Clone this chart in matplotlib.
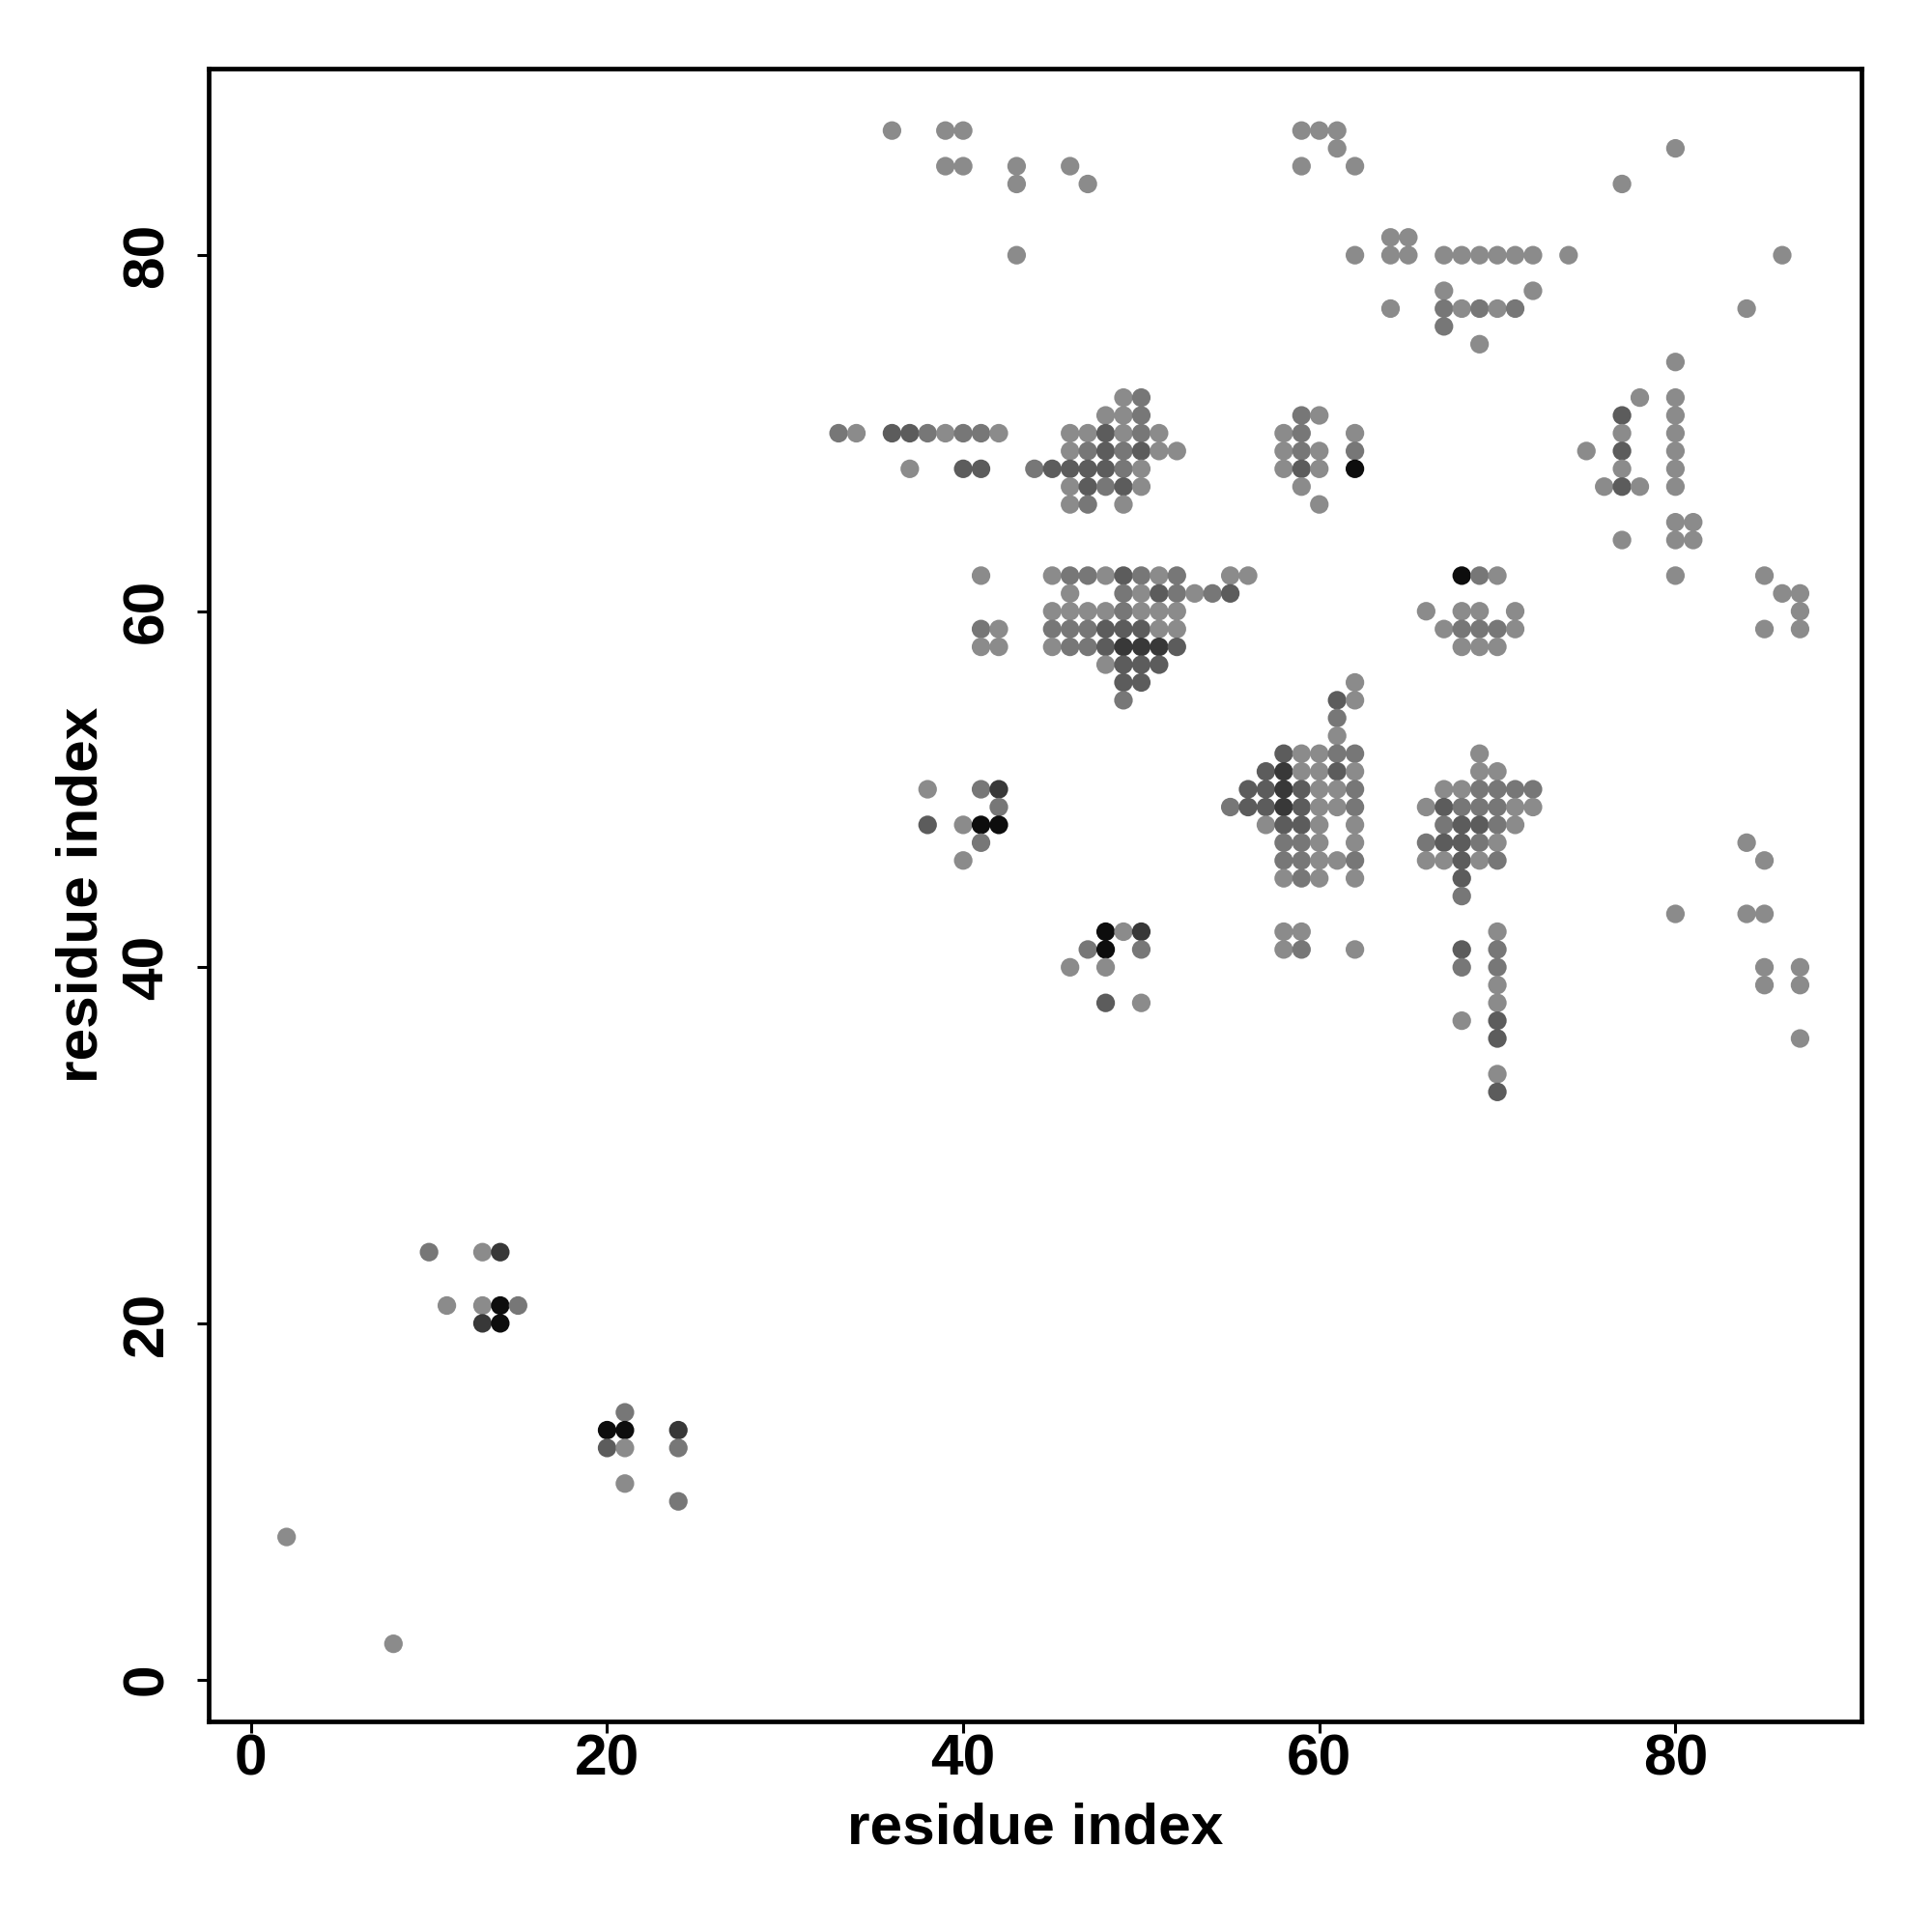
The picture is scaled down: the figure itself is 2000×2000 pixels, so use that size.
import matplotlib
matplotlib.use("Agg")
import matplotlib.pyplot as plt

# contact map: one entry per row (residue index on y), with the x residues
# in that row and a contact strength level (0 = weak ... 4 = strongest)
row_y = [87, 86, 85, 84, 81, 80, 78, 77, 76, 75, 74, 72, 71, 70, 69, 68, 67, 66,
         65, 64, 62, 61, 60, 59, 58, 57, 56, 55, 54, 53, 52, 51, 50, 49, 48, 47,
         46, 45, 44, 43, 42, 41, 40, 39, 38, 37, 36, 34, 33, 24, 21, 20, 15, 14,
         13, 11, 10, 8, 2]

row_x = [
    [36, 39, 40, 59, 60, 61],
    [61, 80],
    [39, 40, 43, 46, 59, 62],
    [43, 47, 77],
    [64, 65],
    [43, 62, 64, 65, 67, 68, 69, 70, 71, 72, 74, 86],
    [67, 72],
    [64, 67, 68, 69, 70, 71, 84],
    [67],
    [69],
    [80],
    [49, 50, 78, 80],
    [48, 49, 50, 59, 60, 77, 80],
    [33, 34, 36, 37, 38, 39, 40, 41, 42, 46, 47, 48, 49, 50, 51, 58, 59, 62, 77, 80],
    [46, 47, 48, 49, 50, 51, 52, 58, 59, 60, 62, 75, 77, 80],
    [37, 40, 41, 44, 45, 46, 47, 48, 49, 50, 58, 59, 60, 62, 77, 80],
    [46, 47, 48, 49, 50, 59, 76, 77, 78, 80],
    [46, 47, 49, 60],
    [80, 81],
    [77, 80, 81],
    [41, 45, 46, 47, 48, 49, 50, 51, 52, 55, 56, 68, 69, 70, 80, 85],
    [46, 49, 50, 51, 52, 53, 54, 55, 86, 87],
    [45, 46, 47, 48, 49, 50, 51, 52, 66, 68, 69, 71, 87],
    [41, 42, 45, 46, 47, 48, 49, 50, 51, 52, 67, 68, 69, 70, 71, 85, 87],
    [41, 42, 45, 46, 47, 48, 49, 50, 51, 52, 68, 69, 70],
    [48, 49, 50, 51],
    [49, 50, 62],
    [49, 61, 62],
    [61],
    [61],
    [58, 59, 60, 61, 62, 69],
    [57, 58, 59, 60, 61, 62, 69, 70],
    [38, 41, 42, 56, 57, 58, 59, 60, 61, 62, 67, 68, 69, 70, 71, 72],
    [42, 55, 56, 57, 58, 59, 60, 61, 62, 66, 67, 68, 69, 70, 71, 72],
    [38, 40, 41, 42, 57, 58, 59, 60, 62, 67, 68, 69, 70, 71],
    [41, 58, 59, 60, 62, 66, 67, 68, 69, 70, 84],
    [40, 58, 59, 60, 61, 62, 66, 67, 68, 69, 70, 85],
    [58, 59, 60, 62, 68],
    [68],
    [80, 84, 85],
    [48, 49, 50, 58, 59, 70],
    [47, 48, 50, 58, 59, 62, 68, 70],
    [46, 48, 68, 70, 85, 87],
    [70, 85, 87],
    [48, 50, 70],
    [68, 70],
    [70, 87],
    [70],
    [70],
    [10, 13, 14],
    [11, 13, 14, 15],
    [13, 14],
    [21],
    [20, 21, 24],
    [20, 21, 24],
    [21],
    [24],
    [2],
    [8],
]

row_level = [
    [0, 0, 0, 0, 0, 0],
    [0, 0],
    [0, 0, 0, 0, 0, 0],
    [0, 0, 0],
    [0, 0],
    [0, 0, 0, 0, 0, 0, 0, 0, 0, 0, 0, 0],
    [0, 0],
    [0, 1, 0, 1, 0, 1, 0],
    [1],
    [0],
    [0],
    [0, 1, 0, 0],
    [0, 0, 1, 1, 0, 2, 0],
    [1, 0, 2, 2, 1, 0, 1, 1, 0, 0, 0, 2, 0, 1, 0, 0, 1, 0, 0, 0],
    [0, 1, 2, 1, 2, 0, 0, 0, 1, 0, 1, 0, 2, 0],
    [0, 2, 2, 1, 2, 2, 2, 2, 1, 0, 0, 2, 0, 4, 0, 0],
    [0, 2, 1, 2, 0, 0, 0, 2, 0, 0],
    [0, 1, 0, 0],
    [0, 0],
    [0, 0, 0],
    [0, 0, 1, 1, 0, 2, 1, 0, 1, 0, 0, 4, 1, 0, 0, 0],
    [0, 1, 0, 2, 1, 0, 1, 2, 0, 0],
    [0, 0, 0, 0, 1, 0, 0, 0, 0, 0, 0, 0, 0],
    [1, 0, 1, 1, 1, 2, 2, 2, 0, 0, 0, 1, 1, 1, 0, 0, 0],
    [0, 0, 0, 1, 1, 2, 3, 3, 3, 2, 0, 0, 0],
    [0, 2, 2, 2],
    [2, 2, 0],
    [1, 2, 0],
    [1],
    [0],
    [2, 0, 0, 1, 1, 0],
    [2, 3, 0, 0, 2, 0, 0, 0],
    [0, 1, 3, 2, 2, 3, 2, 0, 0, 1, 0, 0, 1, 1, 1, 1],
    [1, 1, 2, 2, 3, 2, 0, 0, 1, 0, 2, 1, 1, 1, 0, 0],
    [2, 0, 4, 4, 0, 2, 2, 0, 0, 1, 2, 2, 1, 0],
    [1, 1, 1, 0, 0, 1, 2, 2, 1, 0, 0],
    [0, 1, 1, 0, 0, 1, 0, 0, 2, 0, 1, 0],
    [0, 1, 0, 0, 2],
    [1],
    [0, 0, 0],
    [4, 0, 3, 0, 0, 0],
    [1, 4, 1, 0, 1, 0, 2, 1],
    [0, 0, 1, 1, 0, 0],
    [0, 0, 0],
    [2, 0, 0],
    [0, 2],
    [2, 0],
    [0],
    [2],
    [1, 0, 3],
    [0, 0, 4, 1],
    [3, 4],
    [1],
    [4, 4, 3],
    [2, 0, 1],
    [0],
    [1],
    [0],
    [0],
]

# grey value for each strength level
level_grey = [0.545, 0.465, 0.36, 0.22, 0.05]

xs, ys, cols = [], [], []
for yv, xrow, lrow in zip(row_y, row_x, row_level):
    for xv, lv in zip(xrow, lrow):
        xs.append(xv)
        ys.append(yv)
        g = level_grey[lv]
        cols.append((g, g, g))

plt.rcParams['font.family'] = ['Liberation Sans', 'DejaVu Sans']
plt.rcParams['font.weight'] = 'bold'

fig = plt.figure(figsize=(20, 20), dpi=100)
ax = fig.add_axes([0.1078, 0.109, 0.8557, 0.8553])

ax.scatter(xs, ys, s=192, c=cols, linewidths=0, zorder=3)

ax.set_xlim(-2.4, 90.45)
ax.set_ylim(-2.36, 90.46)
ax.set_xticks([0, 20, 40, 60, 80])
ax.set_yticks([0, 20, 40, 60, 80])

for sp in ax.spines.values():
    sp.set_linewidth(3.4)

ax.tick_params(axis='both', length=8.3, width=2.2, labelsize=43.5)
ax.tick_params(axis='x', pad=1)
ax.tick_params(axis='y', pad=17)
for lab in ax.get_yticklabels():
    lab.set_rotation(90)
    lab.set_va('center')
for lab in ax.get_xticklabels() + ax.get_yticklabels():
    lab.set_fontweight('bold')

ax.set_xlabel('residue index', fontsize=43.5, fontweight='bold', va='baseline')
ax.xaxis.set_label_coords(0.5, -0.0742)
ax.set_ylabel('residue index', fontsize=43.5, fontweight='bold', va='baseline')
ax.yaxis.set_label_coords(-0.067, 0.5)

fig.savefig('out.png', dpi=100, facecolor='white')
